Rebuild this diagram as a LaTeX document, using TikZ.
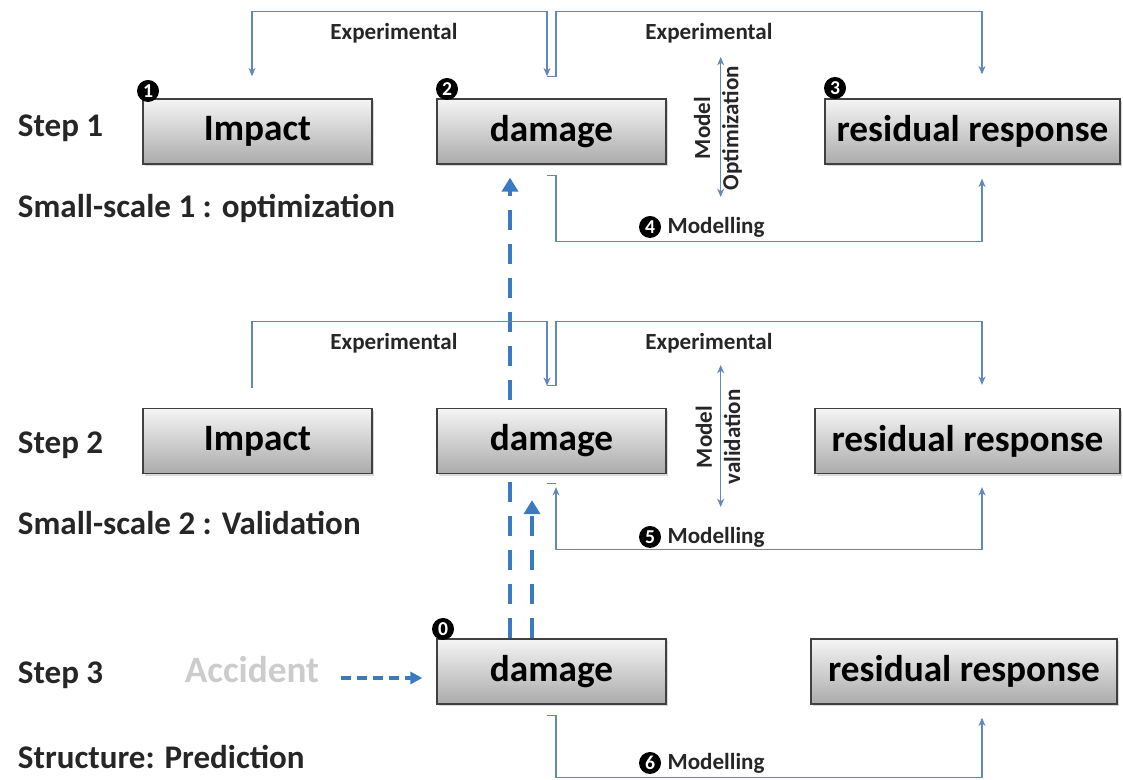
\documentclass[tikz,border=0pt]{standalone}
\usepackage{fontspec}
\setmainfont{Carlito}
\usetikzlibrary{arrows.meta,positioning,calc,shadows,backgrounds}
\newcommand\boxfont{\bfseries\fontsize{26.5}{30}\selectfont}
\newcommand\stepfont{\bfseries\fontsize{23.5}{27}\selectfont}
\newcommand\tagfont{\bfseries\fontsize{16.4}{20}\selectfont}
\definecolor{linkblue}{RGB}{98,136,190}
\definecolor{dashblue}{RGB}{58,122,192}
\tikzset{x=0.025cm, y=0.025cm, % one unit is one pixel of the sketch
        box/.style={ % grey bars for the three quantities
            draw=black!75, line width=0.9pt,
            top color=black!4, bottom color=black!33,
            minimum height=1.625cm,
            font=\boxfont,
            drop shadow={shadow xshift=1.5pt, shadow yshift=-1.5pt, opacity=0.3}},
        steplabel/.style={anchor=west, font=\stepfont, text=black!85},
        tag/.style={font=\tagfont, text=black!85},
        badge/.style={circle, fill=black, text=white, inner sep=0pt,
            minimum size=0.55cm, font=\bfseries\fontsize{14}{14}\selectfont},
        link/.style={draw=linkblue, line width=0.8pt, % thin connectors
            >={Stealth[length=6pt, width=5pt]}},
        jump/.style={draw=dashblue, line width=3.2pt, % thick dashed transfers
            dash pattern=on 0.5cm off 0.35cm,
            -{Triangle[length=0.35cm, width=0.4cm]}}
        }

\begin{document}
\begin{tikzpicture}
    \useasboundingbox (0,0) rectangle (1123,780);

    % left column
    \node[steplabel] (step1)  at (13,652) {Step 1};
    \node[steplabel] (scale1) at (13,572) {Small-scale 1 : optimization};
    \node[steplabel] (step2)  at (13,335) {Step 2};
    \node[steplabel] (scale2) at (13,257) {Small-scale 2 : Validation};
    \node[steplabel] (step3)  at (13,105) {Step 3};
    \node[steplabel] (struct) at (13,23)  {Structure: Prediction};

    % boxes
    \node[box, minimum width=5.725cm] (imp1) at (257.5,648.5) {Impact};
    \node[box, minimum width=5.725cm] (dmg1) at (551.5,648.5) {damage};
    \node[box, minimum width=7.375cm] (res1) at (972.5,648.5) {residual response};

    \node[box, minimum width=5.725cm] (imp2) at (257.5,339) {Impact};
    \node[box, minimum width=5.725cm] (dmg2) at (551.5,339) {damage};
    \node[box, minimum width=7.625cm] (res2) at (967.5,339) {residual response};

    \node[box, minimum width=5.725cm] (dmg3) at (551.5,108.5) {damage};
    \node[box, minimum width=7.65cm]  (res3) at (964,108.5)   {residual response};

    \node[font=\boxfont, text=black!20] (acc) at (252,110) {Accident};

    % badges
    \node[badge] (b1) at (148,689) {1};
    \node[badge] (b2) at (447,691) {2};
    \node[badge] (b3) at (835,692) {3};
    \node[badge] (b0) at (443,151) {0};

    % step 1
    \draw[link, <->] ($(imp1.north)+(-5.5,22)$) |- ($(dmg1.north)+(-4.5,87)$) -- ($(dmg1.north)+(-4.5,22)$);
    \draw[link, ->] ($(dmg1.north)+(-4.5,22)$) -- ++(9,0) |- ($(res1.north)+(9.5,87)$) -- ($(res1.north)+(9.5,24)$);
    \draw[link, <->] ($(dmg1.east)+(54,74.5)$) -- ($(dmg1.east)+(54,-65.5)$);
    \draw[link, ->] ($(dmg1.south)+(-4.5,-11)$) -- ++(9,0) |- ($(res1.south)+(9.5,-77)$) -- ($(res1.south)+(9.5,-14)$);
    \node[tag] (exp1a) at (394,747) {Experimental};
    \node[tag] (exp1b) at (709,747) {Experimental};
    \node[tag, rotate=90, align=center] (opt1) at (718,652) {Model\\Optimization};
    \node[badge] (b4) at (650,553) {4};
    \node[tag, right=1pt of b4] (mod1) {Modelling};

    % step 2
    \draw[link, ->] ($(imp2.north)+(-5.5,20)$) |- ($(dmg2.north)+(-4.5,86)$) -- ($(dmg2.north)+(-4.5,22)$);
    \draw[link, ->] ($(dmg2.north)+(-4.5,22)$) -- ++(9,0) |- ($(res2.north)+(14.5,86)$) -- ($(res2.north)+(14.5,23)$);
    \draw[link, <->] ($(dmg2.east)+(54,76)$) -- ($(dmg2.east)+(54,-66)$);
    \draw[link, <->] ($(dmg2.south)+(4.5,-13)$) |- ($(res2.south)+(14.5,-75)$) -- ($(res2.south)+(14.5,-13)$);
    \draw[link] ($(dmg2.south)+(-4.5,-9)$) -- ++(9,0);
    \node[tag] (exp2a) at (394,437) {Experimental};
    \node[tag] (exp2b) at (709,437) {Experimental};
    \node[tag, rotate=90, align=center] (val2) at (718,343) {Model\\validation};
    \node[badge] (b5) at (650,243) {5};
    \node[tag, right=1pt of b5] (mod2) {Modelling};

    % step 3
    \draw[link, ->] ($(dmg3.south)+(-4.5,-11)$) -- ++(9,0) |- ($(res3.south)+(18,-73)$) -- ($(res3.south)+(18,-13)$);
    \node[badge] (b6) at (650,17) {6};
    \node[tag, right=1pt of b6] (mod3) {Modelling};

    % transfers between the scales
    \begin{scope}[on background layer]
        \draw[jump] ($(dmg3.north)+(-41.5,0)$) -- ($(dmg1.south)+(-41.5,-13)$);
        \draw[jump] ($(dmg3.north)+(-19.5,0)$) -- ($(dmg2.south)+(-19.5,-26)$);
    \end{scope}
    \draw[jump, line width=2.6pt, dash pattern=on 0.25cm off 0.15cm,
          -{Triangle[length=0.3cm, width=0.3cm]}] ($(acc.east)+(17,-8)$) -- ($(dmg3.west)+(-14,-6.5)$);
\end{tikzpicture}
\end{document}
